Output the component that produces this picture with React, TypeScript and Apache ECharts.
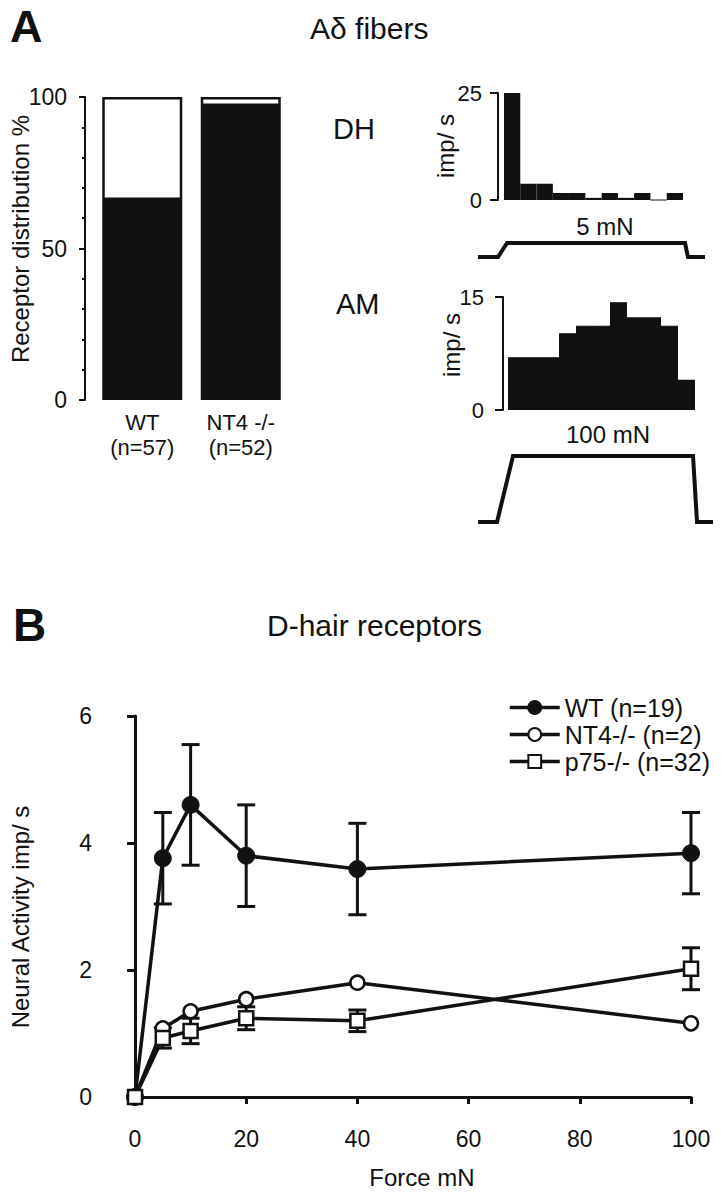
import React, { useEffect, useRef } from "react";
import * as echarts from "echarts";

// ---------- Panel A: receptor distribution ----------
const barCategories = ["WT\n(n=57)", "NT4 -/-\n(n=52)"];
const blackPercent = [66, 97];
const whitePercent = [34, 3];
const barYTicks = [0, 50, 100];

// ---------- Panel A: PSTH histograms (11 bins) ----------
const histBins = ["1", "2", "3", "4", "5", "6", "7", "8", "9", "10", "11"];
const dhHist = [25, 3.8, 3.8, 1.65, 1.65, 0.5, 1.65, 0.5, 1.65, 0, 1.65];
const amHist = [7, 7, 7, 10.2, 11.2, 11.2, 14.3, 12.3, 12.3, 11.2, 4];
const dhMax = 25;
const amMax = 15;

// ---------- Panel A: stimulus traces (normalised time, force on/off) ----------
const dhTraceT = [0, 0.088, 0.128, 0.912, 0.925, 1];
const dhTraceF = [0, 0, 1, 1, 0, 0];
const amTraceT = [0, 0.081, 0.149, 0.915, 0.932, 1];
const amTraceF = [0, 0, 1, 1, 0, 0];

// ---------- Panel B: D-hair receptors ----------
const forces = [0, 5, 10, 20, 40, 100];
const wtMean = [0, 3.76, 4.6, 3.8, 3.59, 3.84];
const wtSem = [0, 0.72, 0.95, 0.8, 0.72, 0.64];
const nt4Mean = [0, 1.08, 1.35, 1.54, 1.8, 1.16];
const p75Mean = [0, 0.93, 1.04, 1.24, 1.2, 2.02];
const p75Sem = [0, 0.16, 0.2, 0.18, 0.17, 0.33];
const seriesNames = ["WT (n=19)", "NT4-/- (n=2)", "p75-/- (n=32)"];

const INK = "#111";
const FONT = "'Liberation Sans', Arial, Helvetica, sans-serif";

function errorData(mean: number[], sem: number[]) {
  const out: number[][] = [];
  for (let i = 0; i < forces.length; i++) {
    if (sem[i] > 0) out.push([forces[i], mean[i] - sem[i], mean[i] + sem[i]]);
  }
  return out;
}

function errorRender(params: any, api: any) {
  const x = api.value(0);
  const lo = api.value(1);
  const hi = api.value(2);
  const top = api.coord([x, hi]);
  const bot = api.coord([x, lo]);
  const hw = 9;
  const st = { stroke: INK, lineWidth: 3 };
  return {
    type: "group",
    children: [
      { type: "line", shape: { x1: top[0], y1: top[1], x2: bot[0], y2: bot[1] }, style: st },
      { type: "line", shape: { x1: top[0] - hw, y1: top[1], x2: top[0] + hw, y2: top[1] }, style: st },
      { type: "line", shape: { x1: bot[0] - hw, y1: bot[1], x2: bot[0] + hw, y2: bot[1] }, style: st },
    ],
  };
}

function txt(text: string, x: number, y: number, size: number, opts: any = {}) {
  return {
    type: "text",
    x,
    y,
    rotation: opts.rotation || 0,
    silent: true,
    style: {
      text,
      fill: INK,
      fontSize: size,
      fontFamily: FONT,
      fontWeight: opts.bold ? "bold" : "normal",
      textAlign: opts.align || "left",
      align: opts.align || "left",
      textVerticalAlign: "middle",
      verticalAlign: "middle",
    },
  };
}

export default function App() {
  const ref = useRef<HTMLDivElement>(null);

  useEffect(() => {
    document.body.style.margin = "0";
    if (!ref.current) return;
    const chart = echarts.init(ref.current, undefined, { renderer: "svg" });

    const hiddenAxis = (gridIndex: number, extra: any = {}) => ({
      gridIndex,
      show: false,
      ...extra,
    });

    const option: any = {
      animation: false,
      backgroundColor: "#fff",
      textStyle: { fontFamily: FONT, color: INK },
      grid: [
        { left: 93, top: 97, width: 197, height: 303 }, // 0 bar chart
        { left: 504, top: 93, width: 179, height: 107 }, // 1 DH hist
        { left: 508, top: 297, width: 187, height: 113 }, // 2 AM hist
        { left: 478, top: 243, width: 227, height: 14 }, // 3 DH trace
        { left: 478, top: 456, width: 235, height: 66 }, // 4 AM trace
        { left: 135, top: 716, width: 556, height: 381 }, // 5 panel B
      ],
      xAxis: [
        {
          gridIndex: 0,
          type: "category",
          data: barCategories,
          axisLine: { show: false },
          axisTick: { show: false },
          axisLabel: { fontSize: 22, lineHeight: 25, color: INK, margin: 10, fontFamily: FONT },
        },
        hiddenAxis(1, { type: "category", data: histBins }),
        hiddenAxis(2, { type: "category", data: histBins }),
        hiddenAxis(3, { type: "value", min: 0, max: 1 }),
        hiddenAxis(4, { type: "value", min: 0, max: 1 }),
        {
          gridIndex: 5,
          type: "value",
          min: 0,
          max: 100,
          interval: 20,
          offset: 10,
          splitLine: { show: false },
          axisLine: { show: true, lineStyle: { color: INK, width: 3 } },
          axisTick: { show: true, length: 7, lineStyle: { color: INK, width: 3 } },
          axisLabel: { fontSize: 23, color: INK, margin: 20, fontFamily: FONT },
        },
      ],
      yAxis: [
        {
          gridIndex: 0,
          type: "value",
          min: barYTicks[0],
          max: barYTicks[2],
          interval: 50,
          offset: 8,
          splitLine: { show: false },
          axisLine: { show: true, lineStyle: { color: INK, width: 2 } },
          axisTick: { show: true, length: 6, lineStyle: { color: INK, width: 2 } },
          minorTick: { show: true, splitNumber: 5, length: 3, lineStyle: { color: INK, width: 2 } },
          axisLabel: { fontSize: 23, color: INK, margin: 18, fontFamily: FONT },
        },
        {
          gridIndex: 1,
          type: "value",
          min: 0,
          max: dhMax,
          interval: dhMax,
          offset: 6,
          splitLine: { show: false },
          axisLine: { show: true, lineStyle: { color: INK, width: 2 } },
          axisTick: { show: true, length: 8, lineStyle: { color: INK, width: 2 } },
          axisLabel: { fontSize: 22, color: INK, margin: 16, fontFamily: FONT },
        },
        {
          gridIndex: 2,
          type: "value",
          min: 0,
          max: amMax,
          interval: amMax,
          offset: 5,
          splitLine: { show: false },
          axisLine: { show: true, lineStyle: { color: INK, width: 2 } },
          axisTick: { show: true, length: 8, lineStyle: { color: INK, width: 2 } },
          axisLabel: { fontSize: 22, color: INK, margin: 19, fontFamily: FONT },
        },
        hiddenAxis(3, { type: "value", min: 0, max: 1 }),
        hiddenAxis(4, { type: "value", min: 0, max: 1 }),
        {
          gridIndex: 5,
          type: "value",
          min: 0,
          max: 6,
          interval: 2,
          offset: 17,
          splitLine: { show: false },
          axisLine: { show: true, lineStyle: { color: INK, width: 3 } },
          axisTick: { show: true, length: 8, lineStyle: { color: INK, width: 3 } },
          axisLabel: { fontSize: 23, color: INK, margin: 26, fontFamily: FONT },
        },
      ],
      legend: {
        orient: "vertical",
        left: 508,
        top: 695,
        padding: 0,
        itemWidth: 50,
        itemHeight: 16,
        itemGap: 2,
        selectedMode: false,
        data: seriesNames,
        lineStyle: { width: 3.5, color: INK },
        textStyle: { fontSize: 25, color: INK, fontFamily: FONT },
      },
      series: [
        // Panel A bars
        {
          type: "bar",
          xAxisIndex: 0,
          yAxisIndex: 0,
          stack: "dist",
          barWidth: 80,
          clip: false,
          silent: true,
          data: blackPercent,
          itemStyle: { color: INK, borderColor: INK, borderWidth: 2 },
        },
        {
          type: "bar",
          xAxisIndex: 0,
          yAxisIndex: 0,
          stack: "dist",
          barWidth: 80,
          clip: false,
          silent: true,
          data: whitePercent,
          itemStyle: { color: "#fff", borderColor: INK, borderWidth: 2.5 },
        },
        // Histograms
        {
          type: "bar",
          xAxisIndex: 1,
          yAxisIndex: 1,
          barCategoryGap: "0%",
          silent: true,
          data: dhHist,
          itemStyle: { color: INK, borderColor: INK, borderWidth: 1.2 },
        },
        {
          type: "bar",
          xAxisIndex: 2,
          yAxisIndex: 2,
          barCategoryGap: "0%",
          silent: true,
          data: amHist,
          itemStyle: { color: INK, borderColor: INK, borderWidth: 1.2 },
        },
        // Stimulus traces
        {
          type: "line",
          xAxisIndex: 3,
          yAxisIndex: 3,
          clip: false,
          silent: true,
          symbol: "none",
          data: dhTraceT.map((t, i) => [t, dhTraceF[i]]),
          lineStyle: { color: INK, width: 4, join: "miter", cap: "butt" },
        },
        {
          type: "line",
          xAxisIndex: 4,
          yAxisIndex: 4,
          clip: false,
          silent: true,
          symbol: "none",
          data: amTraceT.map((t, i) => [t, amTraceF[i]]),
          lineStyle: { color: INK, width: 4, join: "miter", cap: "butt" },
        },
        // Panel B error bars
        {
          type: "custom",
          xAxisIndex: 5,
          yAxisIndex: 5,
          z: 1,
          silent: true,
          renderItem: errorRender,
          encode: { x: 0, y: [1, 2] },
          data: errorData(wtMean, wtSem),
        },
        {
          type: "custom",
          xAxisIndex: 5,
          yAxisIndex: 5,
          z: 1,
          silent: true,
          renderItem: errorRender,
          encode: { x: 0, y: [1, 2] },
          data: errorData(p75Mean, p75Sem),
        },
        // Panel B lines
        {
          name: seriesNames[0],
          type: "line",
          xAxisIndex: 5,
          yAxisIndex: 5,
          z: 3,
          clip: false,
          silent: true,
          symbol: "circle",
          symbolSize: 17,
          data: forces.map((f, i) => [f, wtMean[i]]),
          lineStyle: { color: INK, width: 3.5 },
          itemStyle: { color: INK, borderColor: INK, borderWidth: 1 },
        },
        {
          name: seriesNames[1],
          type: "line",
          xAxisIndex: 5,
          yAxisIndex: 5,
          z: 4,
          clip: false,
          silent: true,
          symbol: "circle",
          symbolSize: 14,
          data: forces.map((f, i) => [f, nt4Mean[i]]),
          lineStyle: { color: INK, width: 3.5 },
          itemStyle: { color: "#fff", borderColor: INK, borderWidth: 2.5 },
        },
        {
          name: seriesNames[2],
          type: "line",
          xAxisIndex: 5,
          yAxisIndex: 5,
          z: 5,
          clip: false,
          silent: true,
          symbol: "rect",
          symbolSize: 14,
          data: forces.map((f, i) => [f, p75Mean[i]]),
          lineStyle: { color: INK, width: 3.5 },
          itemStyle: { color: "#fff", borderColor: INK, borderWidth: 2.5 },
        },
      ],
      graphic: [
        txt("A", 10, 26, 45, { bold: true }),
        txt("Aδ fibers", 310, 28, 30),
        txt("Receptor distribution %", 20, 239, 24, { rotation: Math.PI / 2, align: "center" }),
        txt("DH", 333, 129, 29),
        txt("AM", 336, 304, 29),
        txt("imp/ s", 445, 146, 24, { rotation: Math.PI / 2, align: "center" }),
        txt("imp/ s", 451, 345, 24, { rotation: Math.PI / 2, align: "center" }),
        txt("5 mN", 605, 226, 24, { align: "center" }),
        txt("100 mN", 608, 434, 24, { align: "center" }),
        txt("B", 13, 625, 46, { bold: true }),
        txt("D-hair receptors", 267, 625, 30),
        txt("Neural Activity imp/ s", 20, 917, 24, { rotation: Math.PI / 2, align: "center" }),
        txt("Force mN", 422, 1177, 24, { align: "center" }),
      ],
    };

    chart.setOption(option);
    return () => {
      chart.dispose();
    };
  }, []);

  return (
    <div
      ref={ref}
      style={{ position: "absolute", left: 0, top: 0, width: 721, height: 1199, background: "#fff" }}
    />
  );
}
